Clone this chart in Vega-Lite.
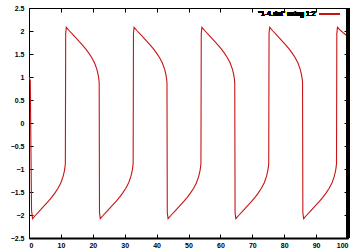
{
  "$schema": "https://vega.github.io/schema/vega-lite/v6.json",
  "width": 319,
  "height": 230,
  "autosize": {"type": "none"},
  "padding": {"left": 29, "top": 8, "right": 12, "bottom": 14},
  "background": "white",
  "config": {
    "view": {"stroke": "black", "strokeWidth": 1},
    "axis": {
      "grid": false,
      "domain": false,
      "tickColor": "black",
      "tickSize": -4,
      "tickWidth": 1,
      "labelFont": "Liberation Sans",
      "labelFontSize": 7,
      "labelFontWeight": "bold",
      "labelColor": "black",
      "title": null
    }
  },
  "data": {"values": [
    {"t": 0, "v": 1.0}, {"t": 0.4, "v": 0.92}, {"t": 0.8, "v": -1.9},
    {"t": 1.1, "v": -2.08}, {"t": 2.1, "v": -2.0}, {"t": 3.1, "v": -1.925}, {"t": 4.1, "v": -1.85}, {"t": 5.1, "v": -1.775}, {"t": 6.1, "v": -1.7}, {"t": 7.1, "v": -1.615}, {"t": 8.1, "v": -1.525}, {"t": 9.1, "v": -1.42}, {"t": 10.0, "v": -1.3}, {"t": 10.7, "v": -1.16}, {"t": 11.1, "v": -1.04}, {"t": 11.3, "v": -0.95}, {"t": 11.4, "v": -0.88}, {"t": 11.5, "v": 1.95},
    {"t": 11.7, "v": 2.08}, {"t": 12.7, "v": 2.0}, {"t": 13.7, "v": 1.925}, {"t": 14.7, "v": 1.85}, {"t": 15.7, "v": 1.775}, {"t": 16.7, "v": 1.7}, {"t": 17.7, "v": 1.615}, {"t": 18.7, "v": 1.525}, {"t": 19.7, "v": 1.42}, {"t": 20.6, "v": 1.3}, {"t": 21.3, "v": 1.16}, {"t": 21.7, "v": 1.04}, {"t": 21.9, "v": 0.95}, {"t": 22.0, "v": 0.88}, {"t": 22.1, "v": -1.95},
    {"t": 22.35, "v": -2.08}, {"t": 23.35, "v": -2.0}, {"t": 24.35, "v": -1.925}, {"t": 25.35, "v": -1.85}, {"t": 26.35, "v": -1.775}, {"t": 27.35, "v": -1.7}, {"t": 28.35, "v": -1.615}, {"t": 29.35, "v": -1.525}, {"t": 30.35, "v": -1.42}, {"t": 31.25, "v": -1.3}, {"t": 31.95, "v": -1.16}, {"t": 32.35, "v": -1.04}, {"t": 32.55, "v": -0.95}, {"t": 32.65, "v": -0.88}, {"t": 32.75, "v": 1.95},
    {"t": 32.95, "v": 2.08}, {"t": 33.95, "v": 2.0}, {"t": 34.95, "v": 1.925}, {"t": 35.95, "v": 1.85}, {"t": 36.95, "v": 1.775}, {"t": 37.95, "v": 1.7}, {"t": 38.95, "v": 1.615}, {"t": 39.95, "v": 1.525}, {"t": 40.95, "v": 1.42}, {"t": 41.85, "v": 1.3}, {"t": 42.55, "v": 1.16}, {"t": 42.95, "v": 1.04}, {"t": 43.15, "v": 0.95}, {"t": 43.25, "v": 0.88}, {"t": 43.35, "v": -1.95},
    {"t": 43.6, "v": -2.08}, {"t": 44.6, "v": -2.0}, {"t": 45.6, "v": -1.925}, {"t": 46.6, "v": -1.85}, {"t": 47.6, "v": -1.775}, {"t": 48.6, "v": -1.7}, {"t": 49.6, "v": -1.615}, {"t": 50.6, "v": -1.525}, {"t": 51.6, "v": -1.42}, {"t": 52.5, "v": -1.3}, {"t": 53.2, "v": -1.16}, {"t": 53.6, "v": -1.04}, {"t": 53.8, "v": -0.95}, {"t": 53.9, "v": -0.88}, {"t": 54.0, "v": 1.95},
    {"t": 54.2, "v": 2.08}, {"t": 55.2, "v": 2.0}, {"t": 56.2, "v": 1.925}, {"t": 57.2, "v": 1.85}, {"t": 58.2, "v": 1.775}, {"t": 59.2, "v": 1.7}, {"t": 60.2, "v": 1.615}, {"t": 61.2, "v": 1.525}, {"t": 62.2, "v": 1.42}, {"t": 63.1, "v": 1.3}, {"t": 63.8, "v": 1.16}, {"t": 64.2, "v": 1.04}, {"t": 64.4, "v": 0.95}, {"t": 64.5, "v": 0.88}, {"t": 64.6, "v": -1.95},
    {"t": 64.85, "v": -2.08}, {"t": 65.85, "v": -2.0}, {"t": 66.85, "v": -1.925}, {"t": 67.85, "v": -1.85}, {"t": 68.85, "v": -1.775}, {"t": 69.85, "v": -1.7}, {"t": 70.85, "v": -1.615}, {"t": 71.85, "v": -1.525}, {"t": 72.85, "v": -1.42}, {"t": 73.75, "v": -1.3}, {"t": 74.45, "v": -1.16}, {"t": 74.85, "v": -1.04}, {"t": 75.05, "v": -0.95}, {"t": 75.15, "v": -0.88}, {"t": 75.25, "v": 1.95},
    {"t": 75.45, "v": 2.08}, {"t": 76.45, "v": 2.0}, {"t": 77.45, "v": 1.925}, {"t": 78.45, "v": 1.85}, {"t": 79.45, "v": 1.775}, {"t": 80.45, "v": 1.7}, {"t": 81.45, "v": 1.615}, {"t": 82.45, "v": 1.525}, {"t": 83.45, "v": 1.42}, {"t": 84.35, "v": 1.3}, {"t": 85.05, "v": 1.16}, {"t": 85.45, "v": 1.04}, {"t": 85.65, "v": 0.95}, {"t": 85.75, "v": 0.88}, {"t": 85.85, "v": -1.95},
    {"t": 86.1, "v": -2.08}, {"t": 87.1, "v": -2.0}, {"t": 88.1, "v": -1.925}, {"t": 89.1, "v": -1.85}, {"t": 90.1, "v": -1.775}, {"t": 91.1, "v": -1.7}, {"t": 92.1, "v": -1.615}, {"t": 93.1, "v": -1.525}, {"t": 94.1, "v": -1.42}, {"t": 95.0, "v": -1.3}, {"t": 95.7, "v": -1.16}, {"t": 96.1, "v": -1.04}, {"t": 96.3, "v": -0.95}, {"t": 96.4, "v": -0.88}, {"t": 96.5, "v": 1.95},
    {"t": 96.7, "v": 2.08}, {"t": 97.7, "v": 2.01}, {"t": 98.7, "v": 1.95}, {"t": 100, "v": 1.88}
  ]},
  "layer": [
    {
      "mark": {"type": "line", "color": "#c81414", "strokeWidth": 1.1, "clip": true},
      "encoding": {
        "x": {"field": "t", "type": "quantitative", "sort": null,
              "scale": {"domain": [0, 100], "nice": false, "zero": false},
              "axis": {"orient": "bottom", "values": [0,10,20,30,40,50,60,70,80,90,100], "labelPadding": 7, "domain": true, "domainColor": "black", "domainWidth": 2}},
        "y": {"field": "v", "type": "quantitative",
              "scale": {"domain": [-2.5, 2.5], "nice": false, "zero": false},
              "axis": {"orient": "left", "values": [-2.5,-2,-1.5,-1,-0.5,0,0.5,1,1.5,2,2.5], "format": "~g", "labelPadding": 9}}
      }
    },
    {
      "mark": {"type": "rule", "color": "black", "strokeWidth": 3},
      "encoding": {
        "x": {"datum": 100, "type": "quantitative",
              "axis": {"orient": "top", "values": [0,10,20,30,40,50,60,70,80,90,100], "labels": false}},
        "y": {"datum": -2.5, "type": "quantitative",
              "axis": {"orient": "right", "values": [-2.5,-2,-1.5,-1,-0.5,0,0.5,1,1.5,2,2.5], "labels": false}},
        "y2": {"datum": 2.5}
      }
    },
    {
      "mark": {"type": "text", "align": "right", "baseline": "middle", "font": "Liberation Sans", "fontSize": 7, "fontWeight": "normal", "color": "black"},
      "encoding": {
        "x": {"datum": 89.8, "type": "quantitative", "axis": null},
        "y": {"datum": 2.37, "type": "quantitative", "axis": null},
        "text": {"value": "\"1-4.dat\" using 1:2"}
      }
    },
    {
      "mark": {"type": "rule", "color": "#c81414", "strokeWidth": 1},
      "encoding": {
        "x": {"datum": 91.2, "type": "quantitative", "axis": null},
        "x2": {"datum": 97.3},
        "y": {"datum": 2.37, "type": "quantitative", "axis": null}
      }
    }
  ],
  "resolve": {"axis": {"x": "independent", "y": "independent"}}
}
